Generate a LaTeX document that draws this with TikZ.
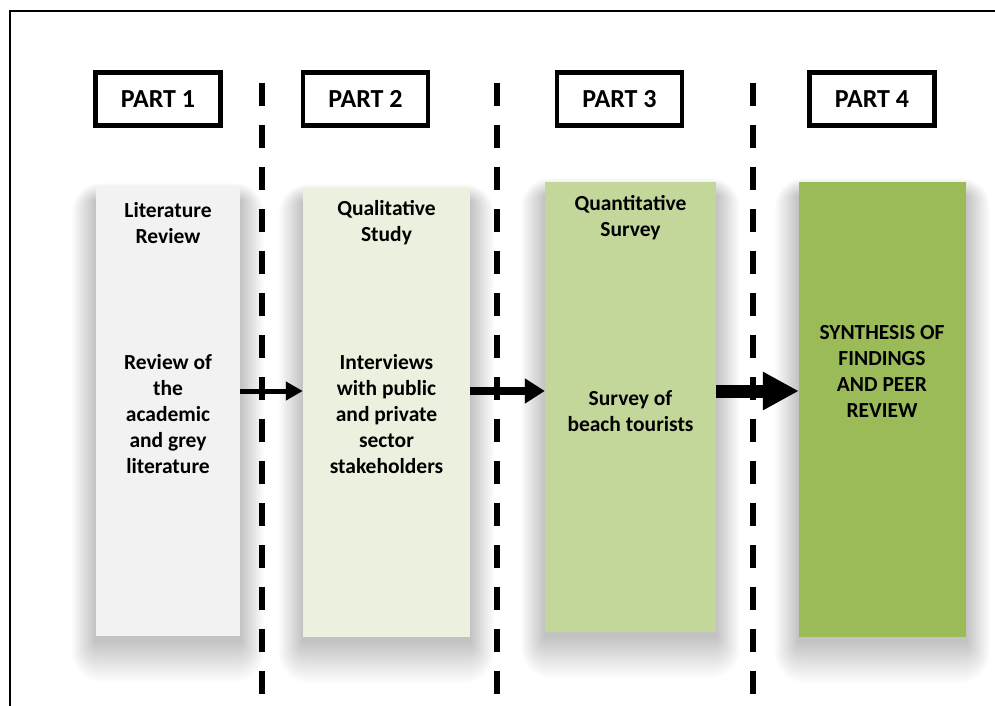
\documentclass[tikz,border=0pt]{standalone}
\usepackage{fontspec}
\setmainfont{Carlito}
\usetikzlibrary{arrows.meta,backgrounds}

\tikzset{
  partbox/.style={draw, line width=4.5pt, minimum width=125pt, minimum height=53pt, inner sep=0pt,
    font=\fontsize{26}{30}\selectfont\bfseries},
  stagebox/.style={inner sep=0pt},
  stagetext/.style={align=center, inner sep=0pt, font=\fontsize{21.5}{26}\selectfont\bfseries},
  divider/.style={line width=6pt, dash pattern=on 23pt off 19pt},
  softshadow/.style={fill=black, opacity=0.0065},
}
\definecolor{litgrey}{HTML}{F2F2F2}
\definecolor{qualgreen}{HTML}{EBF1DE}
\definecolor{quangreen}{HTML}{C4D79B}
\definecolor{synthgreen}{HTML}{9BBB59}

\begin{document}
\begin{tikzpicture}[x=1pt, y=1pt]
  \useasboundingbox (0,0) rectangle (995,-706);
  \draw[line width=1.5pt] (10,-706) -- (10,-11) -- (995,-11);

  % the four stages
  \node[stagebox, fill=litgrey, minimum width=144pt, minimum height=449pt] (lit) at (168,-411.5) {};
  \node[stagebox, fill=qualgreen, minimum width=167pt, minimum height=449pt] (qual) at (386.5,-412.5) {};
  \node[stagebox, fill=quangreen, minimum width=171pt, minimum height=450pt] (quan) at (630.5,-407) {};
  \node[stagebox, fill=synthgreen, minimum width=167pt, minimum height=455pt] (synth) at (882.5,-409.5) {};

  \node[stagetext] (littitle) at (168,-223) {Literature\\Review};
  \node[stagetext] (litbody) at (168,-414) {Review of\\the\\academic\\and grey\\literature};
  \node[stagetext] (qualtitle) at (386.5,-223) {Qualitative\\Study};
  \node[stagetext] (qualbody) at (386.5,-414) {Interviews\\with public\\and private\\sector\\stakeholders};
  \node[stagetext] (quantitle) at (630.5,-218) {Quantitative\\Survey};
  \node[stagetext] (quanbody) at (630.5,-411) {Survey of\\beach tourists};
  \node[stagetext] (synthbody) at (882,-371) {SYNTHESIS OF\\FINDINGS\\AND PEER\\REVIEW};

  % shadows under the stages
  \begin{pgfonlayer}{background}
    \fill[white] (0,0) rectangle (995,-706);
    \foreach \n in {lit,qual,quan,synth}
      \foreach \i in {1,...,30}
        \fill[softshadow, rounded corners=\i pt]
          ([xshift=-0.8*\i pt, yshift=-4pt-1.4*\i pt]\n.south west)
          rectangle ([xshift=0.8*\i pt, yshift=-14pt+0.6*\i pt]\n.north east);
  \end{pgfonlayer}

  % dividers
  \foreach \x in {262,497,753}
    \draw[divider] (\x,-83) -- (\x,-700);

  % part headings
  \node[partbox] (part1) at (158,-99) {PART 1};
  \node[partbox] (part2) at (365.5,-99) {PART 2};
  \node[partbox] (part3) at (619.5,-99) {PART 3};
  \node[partbox] (part4) at (872,-99) {PART 4};

  % arrows
  \coordinate (flowline) at (0,-391);
  \draw[line width=5pt, -{Triangle[length=17pt, width=18pt]}] (lit.east |- flowline) -- (qual.west |- flowline);
  \draw[line width=8pt, -{Triangle[length=20pt, width=24pt]}] (qual.east |- flowline) -- (quan.west |- flowline);
  \draw[line width=13pt, -{Triangle[length=36pt, width=36pt]}] (quan.east |- flowline) -- (synth.west |- flowline);
\end{tikzpicture}
\end{document}
